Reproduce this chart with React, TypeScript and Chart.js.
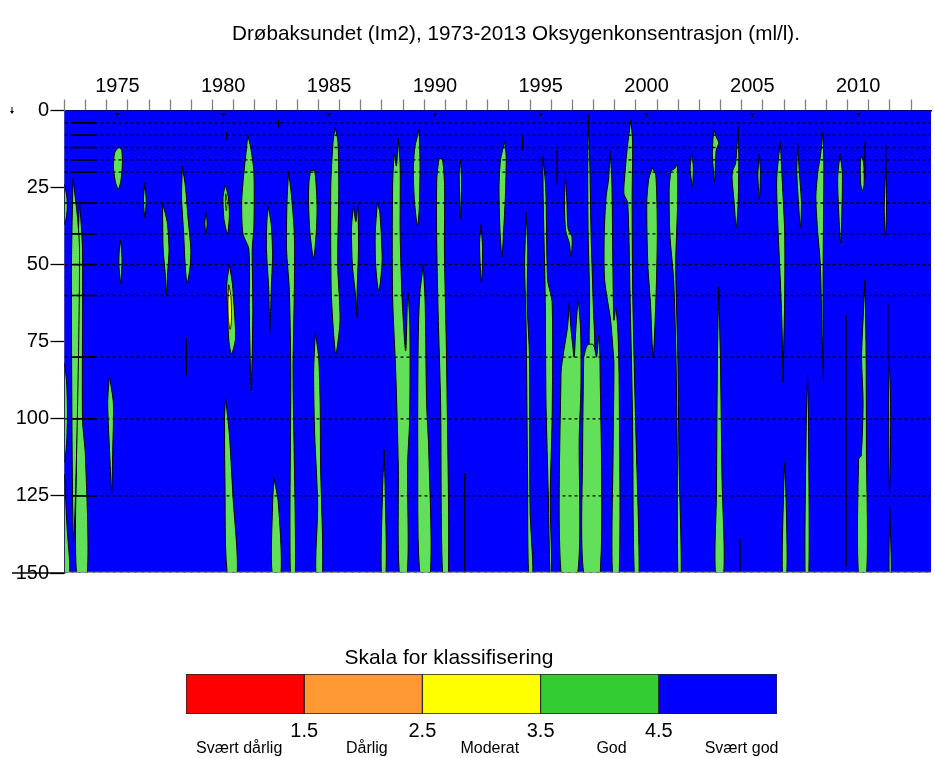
import React, { useEffect, useRef } from 'react';
import { Chart, registerables } from 'chart.js';
Chart.register(...registerables);

const FONT = "'Liberation Sans', Arial, Helvetica, sans-serif";
const TITLE = 'Drøbaksundet (Im2), 1973-2013 Oksygenkonsentrasjon (ml/l).';
const BLUE = '#0000FF';
const GREEN = '#63E05A';
const YELLOW = '#FFFF00';

const yearMin = 1973;
const yearMax = 2013.94;
const tickYears = [1973, 1974, 1975, 1976, 1977, 1978, 1979, 1980, 1981, 1982, 1983, 1984, 1985, 1986,
  1987, 1988, 1989, 1990, 1991, 1992, 1993, 1994, 1995, 1996, 1997, 1998, 1999, 2000, 2001, 2002,
  2003, 2004, 2005, 2006, 2007, 2008, 2009, 2010, 2011, 2012, 2013];
const labelYears = [1975, 1980, 1985, 1990, 1995, 2000, 2005, 2010];
const depthTicks = [0, 25, 50, 75, 100, 125, 150];
const sampleDepths = [4, 8, 12, 16, 20, 30, 40, 50, 60, 80, 100, 125];
const denseSampling = [1973.38, 1974.5];
const bottomDepth = 150;

// Areas with "God" (3.5-4.5 ml/l) oxygen: outlines as [year, depth]
const patches1970s = [
  [[1973.0, 24], [1973.11, 28], [1973.13, 32], [1973.05, 36], [1973.0, 37]],
  [[1973.0, 82], [1973.1, 88], [1973.14, 98], [1973.1, 108], [1973.0, 114]],
  [[1973.0, 118], [1973.12, 135], [1973.25, 150], [1973.0, 150]],
  [[1973.4, 22], [1973.62, 35], [1973.71, 45], [1973.66, 80], [1973.52, 125], [1973.42, 140], [1973.35, 100], [1973.33, 50]],
  [[1973.71, 29], [1973.85, 45], [1973.85, 100], [1973.99, 112], [1974.08, 150], [1973.57, 150], [1973.57, 110], [1973.61, 50]],
  [[1975.59, 11.8], [1975.71, 13], [1975.73, 18], [1975.66, 23], [1975.54, 25.5], [1975.40, 23], [1975.31, 18], [1975.38, 13.5]],
  [[1975.65, 42], [1975.72, 48], [1975.66, 56], [1975.57, 50], [1975.59, 45]],
  [[1976.80, 23.4], [1976.86, 29], [1976.80, 34.7], [1976.73, 29]],
  [[1975.12, 86], [1975.31, 95], [1975.28, 110], [1975.23, 124], [1975.14, 112], [1975.04, 95]],
  [[1977.63, 30], [1977.85, 36], [1977.94, 45], [1977.87, 53], [1977.82, 60], [1977.76, 53], [1977.66, 45]],
  [[1978.57, 18], [1978.72, 25], [1978.84, 35], [1978.97, 45], [1978.93, 51], [1978.79, 56], [1978.70, 50], [1978.63, 40], [1978.53, 28]],
  [[1979.69, 33], [1979.74, 36.5], [1979.69, 40], [1979.63, 36.5]],
];

const patches1980s = [
  [[1980.60, 24], [1980.74, 28], [1980.79, 34], [1980.70, 40], [1980.53, 35], [1980.49, 28]],
  [[1980.79, 50], [1980.93, 56], [1981.02, 64], [1981.08, 74], [1980.89, 79], [1980.77, 75], [1980.70, 65], [1980.67, 56]],
  [[1981.66, 8], [1981.80, 12], [1981.95, 20], [1981.95, 38], [1981.87, 45], [1981.90, 65], [1981.82, 91], [1981.73, 65], [1981.71, 45], [1981.43, 40], [1981.37, 30], [1981.45, 22], [1981.57, 14]],
  [[1980.61, 93], [1980.79, 105], [1980.96, 125], [1981.16, 150], [1980.69, 150], [1980.58, 120], [1980.56, 100]],
  [[1982.62, 31], [1982.77, 37], [1982.83, 47], [1982.77, 58], [1982.70, 72], [1982.65, 58], [1982.54, 45], [1982.56, 36]],
  [[1982.89, 119], [1983.10, 127], [1983.23, 150], [1982.81, 150], [1982.83, 128]],
  [[1983.59, 19.6], [1983.73, 28], [1983.86, 40], [1983.86, 58], [1983.80, 85], [1983.91, 150], [1983.67, 150], [1983.69, 85], [1983.62, 58], [1983.49, 45], [1983.51, 30]],
  [[1984.63, 19.5], [1984.82, 19.5], [1984.93, 30], [1984.91, 38], [1984.77, 48], [1984.60, 40], [1984.53, 30], [1984.55, 23]],
  [[1984.85, 72], [1985.01, 80], [1985.08, 95], [1985.10, 115], [1985.19, 150], [1984.88, 150], [1984.96, 128], [1984.82, 105], [1984.77, 85]],
  [[1985.79, 5.6], [1985.92, 10], [1985.96, 25], [1985.91, 50], [1986.02, 68], [1985.82, 79], [1985.69, 70], [1985.60, 58], [1985.58, 25], [1985.69, 10]],
  [[1986.65, 31], [1986.77, 36], [1986.86, 30.5], [1986.89, 45], [1986.82, 60], [1986.82, 67], [1986.75, 60], [1986.60, 50], [1986.56, 38]],
  [[1987.78, 30], [1987.90, 33], [1988.01, 48], [1987.92, 56], [1987.83, 58.5], [1987.70, 50], [1987.68, 40]],
  [[1988.77, 9], [1988.86, 18], [1988.86, 40], [1988.96, 62], [1989.12, 78], [1989.22, 59], [1989.32, 70], [1989.31, 100], [1989.21, 115], [1989.20, 150], [1988.82, 150], [1988.77, 115], [1988.65, 85], [1988.50, 60], [1988.50, 25], [1988.58, 14], [1988.68, 18]],
  [[1989.76, 6], [1989.80, 18], [1989.76, 32], [1989.68, 37.5], [1989.54, 30], [1989.48, 20], [1989.55, 12]],
  [[1988.10, 110], [1988.16, 125], [1988.19, 150], [1987.97, 150], [1988.02, 125]],
];

const patches1990s = [
  [[1989.95, 50], [1990.04, 62], [1990.11, 95], [1990.21, 110], [1990.29, 150], [1989.79, 150], [1989.69, 110], [1989.71, 75], [1989.78, 60]],
  [[1990.69, 15.5], [1990.86, 16], [1990.96, 25], [1990.95, 45], [1991.05, 80], [1991.14, 150], [1990.86, 150], [1990.77, 95], [1990.65, 65], [1990.58, 40], [1990.59, 22]],
  [[1991.71, 16], [1991.76, 22], [1991.74, 30], [1991.71, 35], [1991.67, 28], [1991.65, 20]],
  [[1992.68, 37], [1992.75, 44], [1992.74, 52], [1992.70, 56], [1992.64, 50], [1992.61, 43]],
  [[1993.80, 10], [1993.87, 15], [1993.83, 28], [1993.74, 40], [1993.67, 47.6], [1993.57, 38], [1993.53, 25], [1993.60, 16]],
  [[1994.81, 33], [1994.89, 45], [1994.86, 62], [1994.97, 80], [1995.00, 130], [1995.13, 150], [1994.93, 150], [1994.88, 120], [1994.81, 70], [1994.74, 50]],
  [[1995.60, 15], [1995.74, 25], [1995.83, 55], [1996.04, 62], [1996.04, 100], [1995.95, 125], [1996.02, 150], [1995.94, 150], [1995.86, 125], [1995.75, 95], [1995.71, 60], [1995.62, 30]],
  [[1996.67, 20.6], [1996.74, 30], [1996.80, 38.5], [1996.98, 41], [1996.94, 47.6], [1996.85, 43], [1996.68, 39], [1996.62, 30]],
  [[1996.85, 62], [1996.92, 70], [1997.01, 76], [1997.08, 80], [1997.15, 72], [1997.27, 62], [1997.39, 72], [1997.40, 90], [1997.32, 106], [1997.25, 150], [1996.46, 150], [1996.46, 85], [1996.59, 78], [1996.77, 70]],
  [[1997.53, 80], [1997.71, 76], [1997.99, 76], [1998.14, 80], [1998.24, 73], [1998.30, 80], [1998.31, 150], [1997.53, 150], [1997.48, 110]],
  [[1997.76, 1.5], [1997.83, 20], [1997.88, 40], [1997.98, 62], [1998.05, 80], [1997.81, 80], [1997.81, 60], [1997.74, 40], [1997.72, 20]],
  [[1998.77, 13], [1998.86, 22], [1998.91, 50], [1998.96, 68], [1999.05, 64], [1999.15, 72], [1999.21, 90], [1999.21, 150], [1998.89, 150], [1998.92, 110], [1998.96, 82], [1998.92, 78], [1998.80, 68], [1998.52, 55], [1998.50, 40], [1998.59, 28], [1998.71, 22]],
  [[1999.76, 3], [1999.84, 10], [1999.82, 30], [1999.85, 60], [1999.98, 100], [2000.15, 150], [1999.92, 150], [1999.84, 100], [1999.72, 60], [1999.61, 30], [1999.43, 27], [1999.46, 22], [1999.59, 12]],
];

const patches2000s = [
  [[2000.78, 18.5], [2000.94, 21], [2001.01, 40], [2000.94, 62], [2000.81, 80], [2000.68, 62], [2000.56, 50], [2000.51, 30], [2000.61, 22]],
  [[2001.65, 19.5], [2001.81, 19], [2001.95, 17.5], [2001.97, 30], [2001.88, 50], [2001.98, 80], [2002.04, 115], [2002.14, 150], [2001.98, 150], [2001.95, 110], [2001.89, 80], [2001.78, 55], [2001.60, 40], [2001.57, 25]],
  [[2002.63, 14], [2002.71, 18], [2002.67, 24.6], [2002.56, 19]],
  [[2003.67, 6], [2003.79, 8.5], [2003.91, 10.5], [2003.79, 13], [2003.72, 23], [2003.61, 14]],
  [[2003.91, 57], [2003.99, 80], [2004.07, 120], [2004.15, 150], [2003.76, 150], [2003.80, 125], [2003.85, 80]],
  [[2004.83, 5], [2004.86, 15], [2004.83, 30], [2004.74, 38], [2004.64, 30], [2004.54, 22], [2004.57, 19.5], [2004.71, 17]],
  [[2005.82, 14], [2005.88, 20], [2005.83, 29], [2005.76, 21]],
  [[2006.82, 10], [2006.93, 25], [2007.03, 40], [2007.03, 60], [2006.97, 80], [2006.95, 88], [2006.90, 70], [2006.82, 55], [2006.69, 35], [2006.65, 22]],
  [[2007.64, 10.5], [2007.72, 20], [2007.82, 30], [2007.77, 38], [2007.68, 30], [2007.60, 20]],
  [[2008.83, 7], [2008.88, 18], [2008.85, 45], [2008.84, 70], [2008.86, 88], [2008.78, 70], [2008.71, 50], [2008.57, 38], [2008.50, 28], [2008.59, 20], [2008.71, 15]],
  [[2009.64, 14], [2009.75, 20], [2009.73, 33], [2009.67, 43], [2009.58, 33], [2009.53, 22]],
  [[2010.66, 14.5], [2010.76, 17], [2010.78, 24], [2010.71, 26], [2010.62, 24], [2010.60, 17]],
  [[2011.80, 11], [2011.84, 25], [2011.83, 35], [2011.78, 41], [2011.73, 32], [2011.78, 22]],
  [[2007.02, 114], [2007.09, 125], [2007.13, 150], [2006.92, 150], [2006.97, 125]],
  [[2008.11, 86], [2008.15, 100], [2008.17, 150], [2007.99, 150], [2008.05, 100]],
  [[2010.82, 55], [2010.87, 75], [2010.89, 110], [2010.90, 150], [2010.51, 150], [2010.52, 113], [2010.64, 112], [2010.73, 95], [2010.66, 80], [2010.75, 65]],
  [[2011.97, 79], [2012.03, 95], [2012.02, 115], [2011.98, 124], [2011.95, 110], [2011.94, 90]],
  [[2011.99, 128], [2012.04, 140], [2012.06, 150], [2011.96, 150]],
];

// "Moderat" (2.5-3.5 ml/l) areas
const yellowPatches = [
  [[1980.76, 56.5], [1980.86, 60], [1980.89, 68], [1980.82, 71], [1980.74, 67], [1980.73, 60]],
  [[1980.62, 27], [1980.68, 29.5], [1980.64, 32.5], [1980.60, 29.5]],
];

// thin contour lines: [year, topDepth, bottomDepth]
const contourLines = [
  [1994.65, 8, 13], [1996.27, 12.7, 24], [1991.91, 117.6, 150], [2009.93, 66.5, 148],
  [2004.92, 139, 150], [1978.76, 74, 86], [2011.90, 63, 79], [2010.82, 10, 22],
  [1980.66, 7, 9.5], [1983.12, 3, 5.5],
];

// legend
const legendTitle = 'Skala for klassifisering';
const classEdges = [0.5, 1.5, 2.5, 3.5, 4.5, 5.5];
const classColors = ['#FF0000', '#FF9933', '#FFFF00', '#33CC33', '#0000FF'];
const classBoundaries = [1.5, 2.5, 3.5, 4.5];
const classNames = ['Svært dårlig', 'Dårlig', 'Moderat', 'God', 'Svært god'];
const classNamePos = [0.95, 2.03, 3.07, 4.1, 5.2];

const closed = (poly: number[][]) => [...poly, poly[0]].map(([x, y]) => ({ x, y }));

function buildMainDatasets() {
  const ds: any[] = [];
  const allGreen = [...patches1970s, ...patches1980s, ...patches1990s, ...patches2000s];
  allGreen.forEach((p) => ds.push({
    data: closed(p), fill: 'shape', backgroundColor: GREEN, borderColor: '#000', borderWidth: 1,
    pointRadius: 0, tension: 0.25, order: 6,
  }));
  yellowPatches.forEach((p) => ds.push({
    data: closed(p), fill: 'shape', backgroundColor: YELLOW, borderColor: '#000', borderWidth: 0.8,
    pointRadius: 0, tension: 0.3, order: 5,
  }));
  contourLines.forEach(([x, a, b]) => ds.push({
    data: [{ x, y: a }, { x, y: b }], borderColor: '#000', borderWidth: 1.3, pointRadius: 0, fill: false, order: 4,
  }));
  sampleDepths.forEach((d) => {
    ds.push({
      data: [{ x: yearMin, y: d }, { x: yearMax, y: d }], borderColor: '#000', borderWidth: 1.3,
      borderDash: [3, 3], pointRadius: 0, fill: false, order: 3,
    });
    ds.push({
      data: [{ x: denseSampling[0], y: d }, { x: denseSampling[1], y: d }], borderColor: '#000', borderWidth: 1.6,
      pointRadius: 0, fill: false, order: 3,
    });
  });
  ds.push({
    data: [{ x: yearMin, y: bottomDepth }, { x: yearMax, y: bottomDepth }], borderColor: '#9a9a9a', borderWidth: 2.5,
    pointRadius: 0, fill: false, order: 3,
  });
  ds.push({
    data: [{ x: yearMin, y: bottomDepth }, { x: yearMax, y: bottomDepth }], borderColor: '#333', borderWidth: 1,
    borderDash: [2, 5], pointRadius: 0, fill: false, order: 2,
  });
  ds.push({
    data: labelYears.map((y) => ({ x: y + 0.5, y: 1.2 })), showLine: false, pointStyle: 'triangle', rotation: 180,
    pointRadius: 2.5, pointBackgroundColor: '#000', pointBorderColor: '#000', borderWidth: 0, order: 1,
  });
  return ds;
}

const decorPlugin = {
  id: 'decor',
  beforeDatasetsDraw(chart: any) {
    const { ctx, chartArea: a } = chart;
    ctx.save();
    ctx.fillStyle = BLUE;
    ctx.fillRect(a.left, a.top, a.right - a.left, a.bottom - a.top);
    ctx.restore();
  },
  afterDraw(chart: any) {
    const { ctx, chartArea: a, scales } = chart;
    ctx.save();
    ctx.fillStyle = '#000';
    ctx.font = `20.7px ${FONT}`;
    ctx.textAlign = 'center';
    ctx.textBaseline = 'middle';
    ctx.fillText(TITLE, 516, 34);
    ctx.strokeStyle = '#000';
    ctx.lineWidth = 1;
    ctx.beginPath();
    ctx.moveTo(12, 107);
    ctx.lineTo(12, 112);
    ctx.stroke();
    ctx.beginPath();
    ctx.moveTo(10, 111);
    ctx.lineTo(14, 111);
    ctx.lineTo(12, 114);
    ctx.closePath();
    ctx.fill();
    const yb = scales.y.getPixelForValue(bottomDepth);
    ctx.lineWidth = 1.5;
    ctx.beginPath();
    ctx.moveTo(12, yb);
    ctx.lineTo(a.left, yb);
    ctx.stroke();
    ctx.restore();
  },
};

export default function App() {
  const mainRef = useRef<HTMLCanvasElement>(null);
  const legRef = useRef<HTMLCanvasElement>(null);

  useEffect(() => {
    const xTicks = [...tickYears, ...labelYears.map((y) => y + 0.5)].sort((a, b) => a - b);
    const main = new Chart(mainRef.current as HTMLCanvasElement, {
      type: 'line',
      data: { datasets: buildMainDatasets() },
      plugins: [decorPlugin],
      options: {
        animation: false,
        responsive: false,
        maintainAspectRatio: false,
        events: [],
        layout: { padding: { left: 0, right: 1, top: 0, bottom: 27 } },
        plugins: { legend: { display: false }, tooltip: { enabled: false }, title: { display: false } },
        scales: {
          x: {
            type: 'linear',
            position: 'top',
            min: yearMin,
            max: yearMax,
            z: 1,
            afterBuildTicks: (s: any) => { s.ticks = xTicks.map((v) => ({ value: v })); },
            afterFit: (s: any) => { s.height = 110.5; },
            ticks: {
              autoSkip: false, maxRotation: 0, padding: 1, color: '#000',
              font: { family: FONT, size: 20 },
              callback: (v: any) => (labelYears.includes(Number(v) - 0.5) ? String(Number(v) - 0.5) : ''),
            },
            grid: {
              drawOnChartArea: false, drawTicks: true, tickLength: 11, tickWidth: 1.3,
              tickColor: (c: any) => (c.tick && Number.isInteger(c.tick.value) ? '#808080' : 'rgba(0,0,0,0)'),
            },
            border: { display: true, color: '#000', width: 1.5 },
          },
          y: {
            type: 'linear',
            position: 'left',
            reverse: true,
            min: 0,
            max: 150,
            z: 1,
            afterBuildTicks: (s: any) => { s.ticks = depthTicks.map((v) => ({ value: v })); },
            afterFit: (s: any) => { s.width = 64.5; },
            ticks: { autoSkip: false, padding: 1.5, color: '#000', font: { family: FONT, size: 20 } },
            grid: { drawOnChartArea: false, drawTicks: true, tickLength: 14, tickColor: '#000', tickWidth: 1.3 },
            border: { display: true, color: '#808080', width: 1.5 },
          },
        },
      } as any,
    });

    const legend = new Chart(legRef.current as HTMLCanvasElement, {
      type: 'bar',
      data: {
        labels: [''],
        datasets: classColors.map((c, i) => ({
          data: [[classEdges[i], classEdges[i + 1]]],
          backgroundColor: c,
          borderColor: '#222',
          borderWidth: 1,
          borderSkipped: false,
          barPercentage: 1,
          categoryPercentage: 1,
          grouped: false,
          xAxisID: 'x',
          yAxisID: 'y',
        })) as any,
      },
      options: {
        indexAxis: 'y',
        animation: false,
        responsive: false,
        maintainAspectRatio: false,
        events: [],
        layout: { padding: 0 },
        plugins: {
          legend: { display: false },
          tooltip: { enabled: false },
          title: {
            display: true, text: legendTitle, color: '#000',
            font: { family: FONT, size: 21, weight: 'normal' },
            padding: { top: 15.4, bottom: 3.4 },
          },
        },
        scales: {
          y: {
            type: 'category', position: 'left', display: true,
            afterFit: (s: any) => { s.width = 186; },
            ticks: { display: false }, grid: { display: false, drawTicks: false, tickLength: 0 }, border: { display: false },
          },
          yr: {
            type: 'linear', position: 'right', display: true, min: 0, max: 1,
            afterFit: (s: any) => { s.width = 121; },
            ticks: { display: false }, grid: { display: false, drawTicks: false, tickLength: 0 }, border: { display: false },
          },
          x: {
            type: 'linear', position: 'bottom', min: 0.5, max: 5.5,
            afterBuildTicks: (s: any) => { s.ticks = classBoundaries.map((v) => ({ value: v })); },
            afterFit: (s: any) => { s.height = 24; },
            ticks: {
              autoSkip: false, maxRotation: 0, padding: 5, color: '#000', font: { family: FONT, size: 20 },
              callback: (v: any) => Number(v).toFixed(1),
            },
            grid: { display: false, drawTicks: false, tickLength: 0 },
            border: { display: false },
          },
          x2: {
            type: 'linear', position: 'bottom', min: 0.5, max: 5.5,
            afterBuildTicks: (s: any) => { s.ticks = classNamePos.map((v) => ({ value: v })); },
            afterFit: (s: any) => { s.height = 20; },
            ticks: {
              autoSkip: false, maxRotation: 0, padding: 0.5, color: '#000', font: { family: FONT, size: 16 },
              callback: (_v: any, i: number) => classNames[i],
            },
            grid: { display: false, drawTicks: false, tickLength: 0 },
            border: { display: false },
          },
        },
      } as any,
    });

    return () => { main.destroy(); legend.destroy(); };
  }, []);

  return (
    <div style={{ position: 'absolute', left: 0, top: 0, width: 935, height: 758, background: '#fff' }}>
      <canvas ref={mainRef} width={935} height={600}
        style={{ position: 'absolute', left: 0, top: 0, width: 935, height: 600, display: 'block' }} />
      <canvas ref={legRef} width={898} height={128}
        style={{ position: 'absolute', left: 0, top: 630, width: 898, height: 128, display: 'block' }} />
    </div>
  );
}
